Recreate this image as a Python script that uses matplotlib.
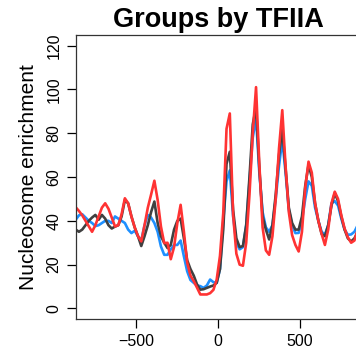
import numpy as np
import matplotlib
matplotlib.use("Agg")
import matplotlib.pyplot as plt

plt.rcParams['font.family'] = ['Liberation Sans', 'DejaVu Sans']

# positions (bp from TSS), every 20 bp
pos = np.arange(-868, 873, 20)

# values
red = [46.2, 44.5, 42.5, 40, 37.5, 35, 38, 42, 46, 48,
       45.5, 41.5, 37.4, 38, 43, 50.3, 48, 42, 37, 33,
       30.6, 38, 46, 52, 58.3, 49.5, 37.4, 29.8, 30, 22.5,
       28, 39, 47.3, 35, 21, 15, 12.5, 9.5, 6.4, 6.4,
       6.4, 7, 8.5, 13.2, 24, 43.5, 82, 89, 43, 25,
       20, 19.5, 30, 52, 80, 101, 66, 37, 26.5, 24.5,
       33, 50, 73, 90.5, 65, 44, 33.5, 29, 26, 35,
       55, 67, 62, 48, 40, 34, 29, 36, 48, 53.3,
       50, 42.5, 36.5, 32.5, 30, 31, 36, 39]

dark = [36, 35, 36, 38, 40, 41.5, 42.7, 40.5, 42.7, 41,
        38, 36.5, 37.4, 38, 42, 49.5, 48, 42, 37, 33,
        28.5, 33, 38, 44, 48.8, 39, 33, 30, 27.6, 29,
        36, 40, 41, 32, 22, 18, 15, 11, 8.6, 8.8,
        9.4, 10, 10.5, 11.7, 18, 36, 66, 71.5, 45, 32,
        28, 28.5, 38, 60, 84, 92, 64, 42, 36, 31.5,
        38, 52, 70, 82, 64, 46, 39, 36, 36, 42,
        56, 65.5, 60, 48, 40, 34, 33, 38, 47, 52.6,
        49, 42, 36, 32, 30.6, 32, 35, 37]

blue = [40.5, 42.5, 43, 41.5, 40, 39, 37.6, 38, 39, 40,
        40, 39, 42, 41, 40, 39, 36, 34.4, 35.5, 33,
        31, 38, 42.7, 41.5, 39, 35, 28.3, 24.5, 24.5, 27,
        29, 29, 31, 23.8, 17, 13, 11.7, 10.5, 10.2, 9.4,
        10.5, 13.2, 12, 11.7, 18, 40, 58, 63, 42, 30,
        27, 28, 38, 58, 78, 87, 62, 44, 37, 35,
        38, 50, 65, 77, 62, 45, 38, 34.4, 34.5, 40,
        50, 58, 56, 46, 40, 35, 33.6, 38, 48, 49,
        47, 41, 36, 33.6, 33.8, 35, 38, 40]

xticks = [-500, 0, 500]
yticks = [0, 20, 40, 60, 80, 100, 120]

fig = plt.figure(figsize=(3.56, 3.56), dpi=100)
ax = fig.add_axes([76/356, 37/356, 284/356, 284/356])

ax.plot(pos, blue, color='#1E90FF', lw=1.9)
ax.plot(pos, dark, color='#404040', lw=1.9)
ax.plot(pos, red, color='#FF3333', lw=1.9)

ax.set_xlim(-866, 866)
ax.set_ylim(-4.8, 124.8)
ax.set_xticks(xticks)
ax.set_yticks(yticks)
ax.set_yticklabels([str(t) for t in yticks], rotation=90, va='center')
ax.tick_params(direction='out', length=6.5, width=0.9, labelsize=11.5, pad=4)

for s in ax.spines.values():
    s.set_color('#333333')
    s.set_linewidth(0.9)

ax.set_ylabel('Nucleosome enrichment', fontsize=15, labelpad=6)
ax.set_title('Groups by TFIIA', fontsize=19.5, fontweight='bold', pad=6)

fig.savefig('out.png', dpi=100)
